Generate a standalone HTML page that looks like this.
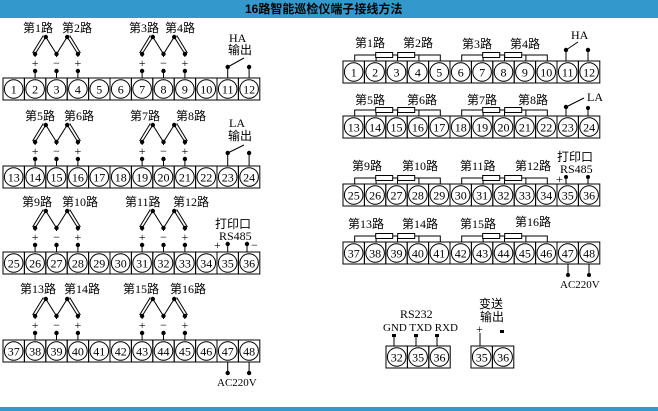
<!DOCTYPE html>
<html><head><meta charset="utf-8"><style>
html,body{margin:0;padding:0;background:#fff;width:658px;height:411px;overflow:hidden}
svg{display:block}
text{font-family:"Liberation Serif","Noto Sans CJK SC",serif;font-size:12px;fill:#000}
.n{text-anchor:middle;font-size:12px}
.t{font-family:"Liberation Sans","Noto Sans CJK SC",sans-serif;font-weight:bold;font-size:12px}
</style></head><body>
<svg width="658" height="411" viewBox="0 0 658 411" xmlns="http://www.w3.org/2000/svg">
<defs>
<g id="c"><rect width="21.4" height="22" fill="none" stroke="#000"/><circle cx="10.7" cy="11" r="9.3" fill="none" stroke="#000"/></g>
<g id="s"><use href="#c" x="0"/><use href="#c" x="21.4"/><use href="#c" x="42.8"/><use href="#c" x="64.2"/><use href="#c" x="85.6"/><use href="#c" x="107"/><use href="#c" x="128.4"/><use href="#c" x="149.8"/><use href="#c" x="171.2"/><use href="#c" x="192.6"/><use href="#c" x="214"/><use href="#c" x="235.4"/></g>
<g id="lg" stroke="#000" fill="none"><path d="M0,-24 L10.7,-41 L21.4,-24 L32.1,-41 L42.8,-24 M-2.5,-25 L8.2,-42.5 M34.6,-42.5 L45.3,-25 M0,-7V0 M21.4,-7V0 M42.8,-7V0 M0,-24V-21 M21.4,-24V-21 M42.8,-24V-21"/>
<g fill="#000" stroke="none"><circle cx="10.7" cy="-41" r="2.2"/><circle cx="32.1" cy="-41" r="2.2"/><circle cx="0" cy="-24" r="2.2"/><circle cx="21.4" cy="-24" r="2.2"/><circle cx="42.8" cy="-24" r="2.2"/><circle cx="0" cy="-7" r="2.2"/><circle cx="21.4" cy="-7" r="2.2"/><circle cx="42.8" cy="-7" r="2.2"/></g></g>
<g id="lgs"><use href="#lg"/><text class="n" x="0" y="-11">+</text><text class="n" x="21.4" y="-11">−</text><text class="n" x="42.8" y="-11">+</text></g>
<g id="rg" stroke="#000" fill="none"><path d="M0,0V-6H85.6V0M21.4,0V-6M42.8,0V-6M64.2,0V-6"/><rect x="21" y="-8.5" width="17" height="5" fill="#fff"/><rect x="43" y="-8.5" width="17" height="5" fill="#fff"/></g>
</defs>
<rect x="0" y="0" width="658" height="18" fill="#3399cc"/>
<text class="t" x="245" y="13">16路智能巡检仪端子接线方法</text>
<rect x="0" y="407" width="658" height="4" fill="#3399cc"/>

<!-- LEFT -->
<g transform="translate(3,78)"><use href="#s"/><text class="n" x="10.7" y="15.5">1</text><text class="n" x="32.1" y="15.5">2</text><text class="n" x="53.5" y="15.5">3</text><text class="n" x="74.9" y="15.5">4</text><text class="n" x="96.3" y="15.5">5</text><text class="n" x="117.7" y="15.5">6</text><text class="n" x="139.1" y="15.5">7</text><text class="n" x="160.5" y="15.5">8</text><text class="n" x="181.9" y="15.5">9</text><text class="n" x="203.3" y="15.5">10</text><text class="n" x="224.7" y="15.5">11</text><text class="n" x="246.1" y="15.5">12</text></g>
<use href="#lgs" x="35.1" y="78"/><use href="#lgs" x="142.1" y="78"/>
<text x="23" y="32">第1路</text><text x="62" y="32">第2路</text><text x="129" y="32">第3路</text><text x="165" y="32">第4路</text>
<text x="229" y="42">HA</text><text x="228" y="54">输出</text>
<g stroke="#000"><path d="M227.7,67V78M249.1,67V78M227.7,67L244,58"/></g><circle cx="227.7" cy="67" r="2.2"/><circle cx="249.1" cy="67" r="2.2"/>

<g transform="translate(3,166)"><use href="#s"/><text class="n" x="10.7" y="15.5">13</text><text class="n" x="32.1" y="15.5">14</text><text class="n" x="53.5" y="15.5">15</text><text class="n" x="74.9" y="15.5">16</text><text class="n" x="96.3" y="15.5">17</text><text class="n" x="117.7" y="15.5">18</text><text class="n" x="139.1" y="15.5">19</text><text class="n" x="160.5" y="15.5">20</text><text class="n" x="181.9" y="15.5">21</text><text class="n" x="203.3" y="15.5">22</text><text class="n" x="224.7" y="15.5">23</text><text class="n" x="246.1" y="15.5">24</text></g>
<use href="#lgs" x="35.1" y="166"/><use href="#lgs" x="142.1" y="166"/>
<text x="25" y="120">第5路</text><text x="64" y="120">第6路</text><text x="130" y="120">第7路</text><text x="176" y="120">第8路</text>
<text x="229" y="127">LA</text><text x="228" y="140">输出</text>
<g stroke="#000"><path d="M227.7,153V166M249.1,153V166M227.7,153L244,145"/></g><circle cx="227.7" cy="153" r="2.2"/><circle cx="249.1" cy="153" r="2.2"/>

<g transform="translate(3,252)"><use href="#s"/><text class="n" x="10.7" y="15.5">25</text><text class="n" x="32.1" y="15.5">26</text><text class="n" x="53.5" y="15.5">27</text><text class="n" x="74.9" y="15.5">28</text><text class="n" x="96.3" y="15.5">29</text><text class="n" x="117.7" y="15.5">30</text><text class="n" x="139.1" y="15.5">31</text><text class="n" x="160.5" y="15.5">32</text><text class="n" x="181.9" y="15.5">33</text><text class="n" x="203.3" y="15.5">34</text><text class="n" x="224.7" y="15.5">35</text><text class="n" x="246.1" y="15.5">36</text></g>
<use href="#lgs" x="35.1" y="252"/><use href="#lgs" x="142.1" y="252"/>
<text x="22" y="206">第9路</text><text x="62" y="206">第10路</text><text x="125" y="206">第11路</text><text x="173" y="206">第12路</text>
<text x="215" y="228">打印口</text><text x="219" y="240">RS485</text>
<text x="214" y="249">+</text><text x="251" y="249">−</text>
<g stroke="#000"><path d="M227.7,244V252M247,244V252"/></g><circle cx="227.7" cy="244" r="2.2"/><circle cx="247" cy="244" r="2.2"/>

<g transform="translate(3,340)"><use href="#s"/><text class="n" x="10.7" y="15.5">37</text><text class="n" x="32.1" y="15.5">38</text><text class="n" x="53.5" y="15.5">39</text><text class="n" x="74.9" y="15.5">40</text><text class="n" x="96.3" y="15.5">41</text><text class="n" x="117.7" y="15.5">42</text><text class="n" x="139.1" y="15.5">43</text><text class="n" x="160.5" y="15.5">44</text><text class="n" x="181.9" y="15.5">45</text><text class="n" x="203.3" y="15.5">46</text><text class="n" x="224.7" y="15.5">47</text><text class="n" x="246.1" y="15.5">48</text></g>
<use href="#lgs" x="35.1" y="340"/><use href="#lgs" x="142.1" y="340"/>
<text x="20" y="293">第13路</text><text x="64" y="293">第14路</text><text x="123" y="293">第15路</text><text x="170" y="293">第16路</text>
<g stroke="#000"><path d="M227.7,362V373M249.1,362V373"/></g><circle cx="227.7" cy="373" r="2.2"/><circle cx="249.1" cy="373" r="2.2"/>
<text x="217" y="386" style="font-size:11px">AC220V</text>

<!-- RIGHT -->
<g transform="translate(343,61)"><use href="#s"/><text class="n" x="10.7" y="15.5">1</text><text class="n" x="32.1" y="15.5">2</text><text class="n" x="53.5" y="15.5">3</text><text class="n" x="74.9" y="15.5">4</text><text class="n" x="96.3" y="15.5">5</text><text class="n" x="117.7" y="15.5">6</text><text class="n" x="139.1" y="15.5">7</text><text class="n" x="160.5" y="15.5">8</text><text class="n" x="181.9" y="15.5">9</text><text class="n" x="203.3" y="15.5">10</text><text class="n" x="224.7" y="15.5">11</text><text class="n" x="246.1" y="15.5">12</text></g>
<use href="#rg" x="354.7" y="61"/><use href="#rg" x="461.7" y="61"/>
<text x="355" y="47">第1路</text><text x="403" y="47">第2路</text><text x="462" y="48">第3路</text><text x="510" y="48">第4路</text>
<text x="571" y="39">HA</text>
<g stroke="#000"><path d="M566,50V61M588,50V61M566,50L578,42"/></g><circle cx="566" cy="50" r="2.2"/><circle cx="588" cy="50" r="2.2"/>

<g transform="translate(343,116)"><use href="#s"/><text class="n" x="10.7" y="15.5">13</text><text class="n" x="32.1" y="15.5">14</text><text class="n" x="53.5" y="15.5">15</text><text class="n" x="74.9" y="15.5">16</text><text class="n" x="96.3" y="15.5">17</text><text class="n" x="117.7" y="15.5">18</text><text class="n" x="139.1" y="15.5">19</text><text class="n" x="160.5" y="15.5">20</text><text class="n" x="181.9" y="15.5">21</text><text class="n" x="203.3" y="15.5">22</text><text class="n" x="224.7" y="15.5">23</text><text class="n" x="246.1" y="15.5">24</text></g>
<use href="#rg" x="354.7" y="116"/><use href="#rg" x="461.7" y="116"/>
<text x="355" y="104">第5路</text><text x="407" y="104">第6路</text><text x="467" y="104">第7路</text><text x="518" y="104">第8路</text>
<text x="587" y="101">LA</text>
<g stroke="#000"><path d="M566,107V116M588,108V116M566,107L584,98"/></g><circle cx="566" cy="107" r="2.2"/><circle cx="588" cy="108" r="2"/>

<g transform="translate(343,184)"><use href="#s"/><text class="n" x="10.7" y="15.5">25</text><text class="n" x="32.1" y="15.5">26</text><text class="n" x="53.5" y="15.5">27</text><text class="n" x="74.9" y="15.5">28</text><text class="n" x="96.3" y="15.5">29</text><text class="n" x="117.7" y="15.5">30</text><text class="n" x="139.1" y="15.5">31</text><text class="n" x="160.5" y="15.5">32</text><text class="n" x="181.9" y="15.5">33</text><text class="n" x="203.3" y="15.5">34</text><text class="n" x="224.7" y="15.5">35</text><text class="n" x="246.1" y="15.5">36</text></g>
<use href="#rg" x="354.7" y="184"/><use href="#rg" x="461.7" y="184"/>
<text x="352" y="170">第9路</text><text x="402" y="170">第10路</text><text x="460" y="170">第11路</text><text x="515" y="170">第12路</text>
<text x="557" y="161">打印口</text><text x="560" y="173">RS485</text><text x="556" y="183">+</text>
<g stroke="#000"><path d="M566,177V184M588,177V184"/></g><circle cx="566" cy="177" r="2"/><circle cx="588" cy="177" r="2"/>

<g transform="translate(343,242)"><use href="#s"/><text class="n" x="10.7" y="15.5">37</text><text class="n" x="32.1" y="15.5">38</text><text class="n" x="53.5" y="15.5">39</text><text class="n" x="74.9" y="15.5">40</text><text class="n" x="96.3" y="15.5">41</text><text class="n" x="117.7" y="15.5">42</text><text class="n" x="139.1" y="15.5">43</text><text class="n" x="160.5" y="15.5">44</text><text class="n" x="181.9" y="15.5">45</text><text class="n" x="203.3" y="15.5">46</text><text class="n" x="224.7" y="15.5">47</text><text class="n" x="246.1" y="15.5">48</text></g>
<use href="#rg" x="354.7" y="242"/><use href="#rg" x="461.7" y="242"/>
<text x="348" y="228">第13路</text><text x="402" y="228">第14路</text><text x="460" y="228">第15路</text><text x="515" y="226">第16路</text>
<g stroke="#000"><path d="M568,264V275M589,264V275"/></g><circle cx="568" cy="275" r="2"/><circle cx="589" cy="275" r="2"/>
<text x="560" y="288" style="font-size:11px">AC220V</text>

<!-- bottom boxes -->
<text x="400" y="318">RS232</text>
<text x="383" y="331" style="font-size:11px">GND TXD RXD</text>
<g stroke="#000"><path d="M394,336V346M416,336V346M437,336V346"/></g>
<rect x="392" y="334" width="4" height="3"/><rect x="414" y="334" width="4" height="3"/><rect x="435" y="334" width="4" height="3"/>
<g transform="translate(386,346)"><use href="#c"/><use href="#c" x="21.4"/><use href="#c" x="42.8"/><text class="n" x="10.7" y="15.5">32</text><text class="n" x="32.1" y="15.5">35</text><text class="n" x="53.5" y="15.5">36</text></g>
<text x="479" y="308">变送</text><text x="480" y="321">输出</text>
<text x="476" y="333">+</text><rect x="500" y="330" width="4" height="3"/>
<path d="M480,333V346" stroke="#000"/>
<g transform="translate(471,346)"><use href="#c"/><use href="#c" x="21.4"/><text class="n" x="10.7" y="15.5">35</text><text class="n" x="32.1" y="15.5">36</text></g>
</svg>
</body></html>
